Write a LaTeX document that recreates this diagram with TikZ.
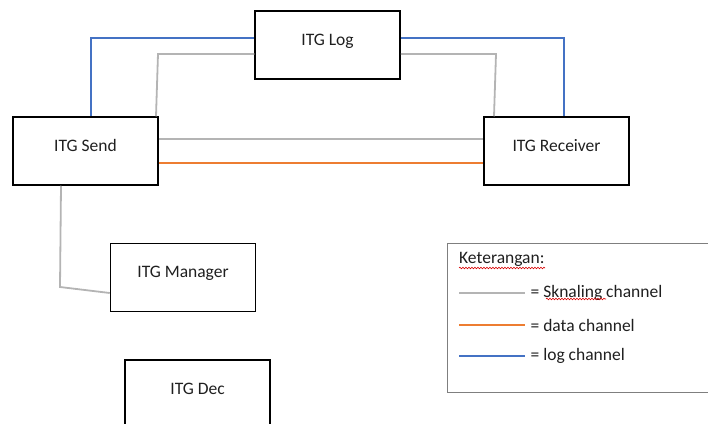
\documentclass[tikz,border=0pt]{standalone}
\usepackage{fontspec}
\setmainfont{Carlito}
\usetikzlibrary{decorations.pathmorphing}

\definecolor{sigcol}{HTML}{B4B4B4}
\definecolor{datacol}{HTML}{ED7D31}
\definecolor{logcol}{HTML}{4472C4}
\definecolor{framecol}{HTML}{7F7F7F}

\begin{document}
\begin{tikzpicture}[x=1pt, y=-1pt,
    box/.style={draw=black, line width=1.5pt, minimum width=145pt, minimum height=68pt,
        text height=10pt, text depth=10pt, font=\fontsize{17.5}{20}\selectfont, text=black!88},
    sigline/.style={sigcol, line width=1.8pt},
    dataline/.style={datacol, line width=1.8pt},
    logline/.style={logcol, line width=1.8pt},
    legtext/.style={anchor=west, inner sep=0pt, font=\fontsize{17.5}{20}\selectfont, text=black!88},
    squiggle/.style={red!85!black, line width=0.6pt, decorate,
        decoration={snake, amplitude=0.8pt, segment length=3pt}}]
    \useasboundingbox (0,0) rectangle (708,423);
    \clip (0,0) rectangle (708,423);

    %Nodes
    \node[box] at (327.5, 45) (log) {ITG Log};
    \node[box] at (85.5, 151) (send) {ITG Send};
    \node[box] at (556.5, 151) (recv) {ITG Receiver};
    \node[box] at (183, 277.5) (mgr) {ITG Manager};
    \node[box] at (197.5, 394) (dec) {ITG Dec};

    %Bends
    \coordinate (gl) at (158, 54);
    \coordinate (gr) at (496, 54);
    \coordinate (gm) at (60, 287);

    %Lines
    \draw[logline] ([xshift=5.5pt]send.north) |- ([yshift=7pt]log.west);
    \draw[logline] ([yshift=7pt]log.east) -| ([xshift=7.5pt]recv.north);
    \draw[sigline] ([xshift=70.5pt]send.north) -- (gl) -- ([yshift=-9pt]log.west);
    \draw[sigline] ([yshift=-9pt]log.east) -- (gr) -- ([xshift=-62.5pt]recv.north);
    \draw[sigline] ([yshift=12pt]send.east) -- ([yshift=12pt]recv.west);
    \draw[dataline] ([yshift=-12pt]send.east) -- ([yshift=-12pt]recv.west);
    \draw[sigline] ([xshift=-24.5pt]send.south) -- (gm) -- ([yshift=-15.5pt]mgr.west);

    %Legend
    \node[draw=framecol, line width=1.2pt, minimum width=273pt, minimum height=149pt,
        anchor=north west, inner sep=0pt] at (447, 243) (legend) {};
    \node[legtext] at (459, 259) (ket) {Keterangan:};
    \draw[sigline, line width=1.2pt] (459, 293) -- (525, 293) node[legtext, xshift=5pt] (sig) {= Sknaling channel};
    \draw[dataline, line width=1.2pt] (459, 325) -- (525, 325) node[legtext, xshift=5pt] (dat) {= data channel};
    \draw[logline, line width=1.2pt] (459, 356) -- (525, 356) node[legtext, xshift=5pt] (lgc) {= log channel};
    \draw[squiggle] (459, 268) -- (545, 268);
    \draw[squiggle] (546, 299) -- (606, 299);
\end{tikzpicture}
\end{document}
